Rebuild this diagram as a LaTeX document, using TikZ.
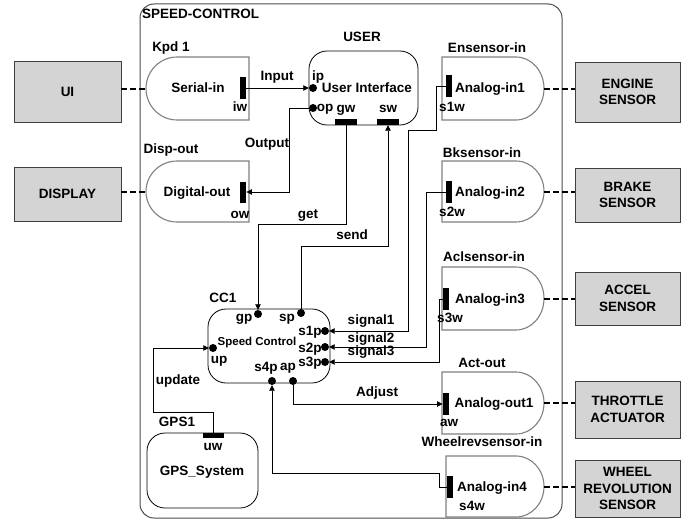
\documentclass[tikz,border=0pt]{standalone}
\usepackage{fontspec}
\setmainfont{Liberation Sans}
\usetikzlibrary{arrows.meta}
\newcommand\LeftDshape[4]{% left x, right x, top y, bottom y
  \draw[dshape] (#2,#3) -- ({#1+31},#3) .. controls ({#1+31-17.1},#3) and (#1,{(#3+#4)/2-0.5523*(#4-#3)/2}) .. (#1,{(#3+#4)/2}) .. controls (#1,{(#3+#4)/2+0.5523*(#4-#3)/2}) and ({#1+31-17.1},#4) .. ({#1+31},#4) -- (#2,#4) -- cycle;}
\newcommand\RightDshape[4]{% left x, right x, top y, bottom y
  \draw[dshape] (#1,#3) -- ({#2-28},#3) .. controls ({#2-28+15.5},#3) and (#2,{(#3+#4)/2-0.5523*(#4-#3)/2}) .. (#2,{(#3+#4)/2}) .. controls (#2,{(#3+#4)/2+0.5523*(#4-#3)/2}) and ({#2-28+15.5},#4) .. ({#2-28},#4) -- (#1,#4) -- cycle;}
\begin{document}
\begin{tikzpicture}[x=1pt,y=-1pt,
  lbl/.style={font=\fontsize{13.5}{15}\selectfont\bfseries, inner sep=0pt, text height=9.7pt, text depth=0pt},
  smalllbl/.style={font=\fontsize{11.5}{13}\selectfont\bfseries, inner sep=0pt, text height=8.3pt, text depth=0pt},
  boxlbl/.style={font=\fontsize{13.5}{16.5}\selectfont\bfseries, align=center, inner sep=0pt},
  extbox/.style={draw=black!75, line width=0.9pt, fill=black!17},
  dshape/.style={draw=black!50, line width=1.1pt, fill=white},
  rbox/.style={draw=black, line width=0.8pt, rounded corners=18pt},
  portdot/.style={circle, fill=black, inner sep=0pt, minimum size=8pt},
  vbar/.style={rectangle, fill=black, inner sep=0pt, minimum width=6.5pt, minimum height=21pt},
  hbar/.style={rectangle, fill=black, inner sep=0pt, minimum width=22pt, minimum height=6pt},
  conn/.style={draw=black, line width=0.8pt, -{Triangle[length=5.5pt,width=5.5pt]}},
  dashconn/.style={draw=black, line width=2pt, dash pattern=on 6pt off 3pt},
]
\useasboundingbox (0,0) rectangle (688,519);

% outer container
\draw[draw=black!70, line width=1pt, rounded corners=14pt] (140,4) rectangle (562,518);
\node[lbl, anchor=west] (sclbl) at (142,14) {SPEED-CONTROL};

% external boxes
\node[extbox, boxlbl, minimum width=107pt, minimum height=61pt] (ui) at (67.5,91.5) {UI};
\node[extbox, boxlbl, minimum width=107pt, minimum height=54pt] (display) at (67.5,194) {DISPLAY};
\node[extbox, boxlbl, minimum width=105pt, minimum height=60pt] (engine) at (627.5,92) {ENGINE\\SENSOR};
\node[extbox, boxlbl, minimum width=105pt, minimum height=54pt] (brake) at (627.5,195) {BRAKE\\SENSOR};
\node[extbox, boxlbl, minimum width=105pt, minimum height=53pt] (accel) at (627.5,298.5) {ACCEL\\SENSOR};
\node[extbox, boxlbl, minimum width=105pt, minimum height=57pt] (throttle) at (627.5,409.5) {THROTTLE\\ACTUATOR};
\node[extbox, boxlbl, minimum width=105pt, minimum height=57pt] (wheel) at (627.5,488.5) {WHEEL\\REVOLUTION\\SENSOR};

% D-shaped I/O components
\LeftDshape{146}{249}{57}{120}
\LeftDshape{146}{249}{161}{222}
\RightDshape{442}{544}{57}{120}
\RightDshape{442}{544}{161}{222}
\RightDshape{442}{544}{267}{330}
\RightDshape{442}{544}{372}{434}
\RightDshape{446}{544}{456}{517}
\coordinate (serL) at (146,88.5);
\coordinate (digL) at (146,191.5);
\coordinate (an1R) at (544,88.5);
\coordinate (an2R) at (544,191.5);
\coordinate (an3R) at (544,298.5);
\coordinate (ao1R) at (544,403);
\coordinate (an4R) at (544,486.5);

% rounded components
\draw[rbox] (309,51) rectangle (418,125);
\draw[rbox] (208,309) rectangle (330,383);
\draw[rbox] (147,433) rectangle (258,508);

% labels
\node[lbl] (kpd) at (171,47) {Kpd 1};
\node[lbl] (serial) at (198,88) {Serial-in};
\node[lbl] (iwl) at (240,107) {iw};
\node[lbl] (inputl) at (277,76) {Input};
\node[lbl] (userl) at (362,37) {USER};
\node[lbl] (ipl) at (318,76) {ip};
\node[lbl] (uil) at (367,88) {User Interface};
\node[lbl] (opl) at (325,107) {op};
\node[lbl] (gwl) at (346,108) {gw};
\node[lbl] (swl) at (388,108) {sw};
\node[lbl] (outputl) at (267,143) {Output};
\node[lbl] (dispout) at (171,149) {Disp-out};
\node[lbl] (digital) at (197,192) {Digital-out};
\node[lbl] (owl) at (240,214) {ow};
\node[lbl] (getl) at (308,214) {get};
\node[lbl] (sendl) at (352,235) {send};
\node[lbl] (cc1) at (223,298) {CC1};
\node[lbl] (gpl) at (244,317) {gp};
\node[lbl] (spl) at (287,317) {sp};
\node[smalllbl] (scl) at (257,341) {Speed Control};
\node[lbl] (upl) at (219,359) {up};
\node[lbl] (s1pl) at (310,331) {s1p};
\node[lbl] (s2pl) at (310,348) {s2p};
\node[lbl] (s3pl) at (310,362) {s3p};
\node[lbl] (s4pl) at (266,367) {s4p};
\node[lbl] (apl) at (288,366) {ap};
\node[lbl] (sig1l) at (371,320) {signal1};
\node[lbl] (sig2l) at (371,338) {signal2};
\node[lbl] (sig3l) at (371,351) {signal3};
\node[lbl] (updl) at (178,380) {update};
\node[lbl] (adjl) at (377,392) {Adjust};
\node[lbl] (gps1) at (177,422) {GPS1};
\node[lbl] (uwl) at (213,446) {uw};
\node[lbl] (gpssys) at (202,471) {GPS\_System};
\node[lbl] (ens) at (487,48) {Ensensor-in};
\node[lbl] (an1) at (490,88) {Analog-in1};
\node[lbl] (s1wl) at (452,107) {s1w};
\node[lbl] (bks) at (482,153) {Bksensor-in};
\node[lbl] (an2) at (490,192) {Analog-in2};
\node[lbl] (s2wl) at (452,212) {s2w};
\node[lbl] (acl) at (484,257) {Aclsensor-in};
\node[lbl] (an3) at (490,299) {Analog-in3};
\node[lbl] (s3wl) at (450,318) {s3w};
\node[lbl] (actout) at (482,363) {Act-out};
\node[lbl] (ao1) at (494,403) {Analog-out1};
\node[lbl] (awl) at (449,422) {aw};
\node[lbl] (wrs) at (482,442) {Wheelrevsensor-in};
\node[lbl] (an4) at (492,487) {Analog-in4};
\node[lbl] (s4wl) at (472,506) {s4w};

% ports
\node[vbar] (iw) at (243,88) {};
\node[vbar] (ow) at (243,192) {};
\node[portdot] (ip) at (313,88) {};
\node[portdot] (op) at (313,108) {};
\node[hbar] (gw) at (346,122) {};
\node[hbar] (sw) at (388,122) {};
\node[portdot] (gp) at (258,314) {};
\node[portdot] (sp) at (301,313) {};
\node[portdot] (s1p) at (325,331) {};
\node[portdot] (s2p) at (325,347) {};
\node[portdot] (s3p) at (325,362) {};
\node[portdot] (up) at (213,348) {};
\node[portdot] (s4p) at (272,381) {};
\node[portdot] (ap) at (293,381) {};
\node[vbar, minimum height=22pt] (s1w) at (449,86) {};
\node[vbar, minimum height=22pt] (s2w) at (449,192) {};
\node[vbar, minimum height=22pt] (s3w) at (446,299) {};
\node[vbar, minimum height=22pt] (aw) at (446,404) {};
\node[vbar, minimum height=22pt] (s4w) at (450,487) {};
\node[hbar, minimum width=21pt, minimum height=5pt] (uw) at (213.5,435.5) {};

% bend coordinates
\coordinate (getlevel) at (258,224);
\coordinate (sendlevel) at (301,246);
\coordinate (sig1b) at (408,130);
\coordinate (s4level) at (272,473);
\coordinate (updlevel) at (153,412);

% connectors
\draw[conn] (iw.east) -- (ip.west);
\draw[conn] (op.west) -- ++(-19,0) |- (ow.east);
\draw[conn] (gw.south) |- (getlevel) -- (gp.north);
\draw[conn] (sp.north) -- (sendlevel) -| (sw.south);
\draw[conn] (s1w.west) -- ++(-9,0) |- (sig1b) |- (s1p.east);
\draw[conn] (s2w.west) -- ++(-19,0) |- (s2p.east);
\draw[conn] (s3w.west) -- ++(-3,0) |- (s3p.east);
\draw[conn] (ap.south) |- (aw.west);
\draw[conn] (s4w.west) -- ++(-7,0) |- (s4level) -- (s4p.south);
\draw[conn] (uw.north) |- (updlevel) |- (up.west);

% dashed links to external devices
\draw[dashconn] (ui.east |- serL) -- (serL);
\draw[dashconn] (display.east |- digL) -- (digL);
\draw[dashconn] (an1R) -- (engine.west |- an1R);
\draw[dashconn] (an2R) -- (brake.west |- an2R);
\draw[dashconn] (an3R) -- (accel.west |- an3R);
\draw[dashconn] (ao1R) -- (throttle.west |- ao1R);
\draw[dashconn] (an4R) -- (wheel.west |- an4R);
\end{tikzpicture}
\end{document}
